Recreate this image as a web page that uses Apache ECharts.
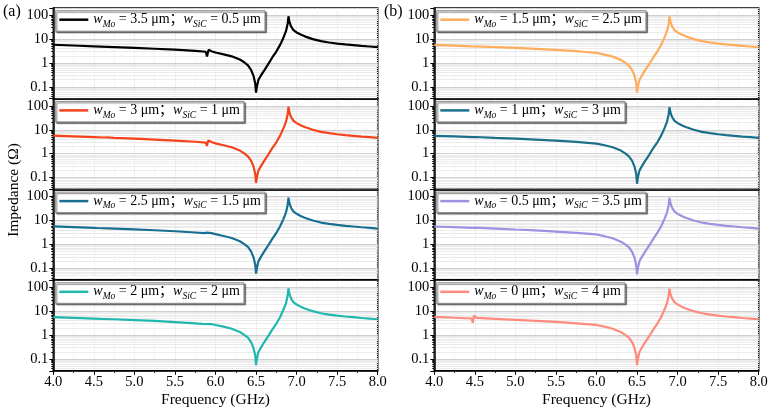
<!DOCTYPE html>
<html><head><meta charset="utf-8">
<script src="https://cdn.jsdelivr.net/npm/echarts@6/dist/echarts.min.js"></script>
<style>html,body{margin:0;padding:0;background:#fff}#c{width:771px;height:413px}</style>
</head><body><div id="c"></div>
<script>
// ---------- data ----------
const freqRange = [4.0, 8.0];
const xTickStep = 0.5;
const yTicks = [0.1, 1, 10, 100];
const wMo  = [3.5, 3, 2.5, 2, 1.5, 1, 0.5, 0];
const wSiC = [0.5, 1, 1.5, 2, 2.5, 3, 3.5, 4];
const panelLabels = ['(a)', '(b)'];

const zA1 = [[4.0,5.8],[4.25,5.4],[4.5,5.0],[4.75,4.65],[5.0,4.3],[5.25,3.95],[5.5,3.6],[5.75,3.2],[5.88,2.95],[5.895,1.85],[5.915,3.6],[5.95,3.1],[6.0,2.75],[6.1,2.3],[6.2,1.9],[6.3,1.4],[6.35,1.1],[6.4,0.8],[6.44,0.5],[6.47,0.28],[6.49,0.14],[6.5,0.058],[6.51,0.1],[6.53,0.2],[6.56,0.3],[6.6,0.48],[6.65,0.9],[6.7,1.7],[6.75,3.0],[6.8,6],[6.84,12],[6.87,22],[6.89,45],[6.9,90],[6.91,55],[6.93,35],[6.96,24],[7.0,19],[7.05,15.5],[7.1,13],[7.2,10],[7.3,8.2],[7.4,7.2],[7.5,6.5],[7.6,6.0],[7.7,5.6],[7.8,5.2],[7.9,4.9],[8.0,4.6]];
const zA2 = [[4.0,5.7],[4.25,5.3],[4.5,4.95],[4.63,4.75],[4.645,4.5],[4.66,4.85],[4.75,4.6],[5.0,4.25],[5.25,3.9],[5.5,3.55],[5.75,3.15],[5.88,2.9],[5.895,2.1],[5.91,3.6],[5.95,3.1],[6.0,2.7],[6.1,2.25],[6.2,1.85],[6.3,1.35],[6.35,1.05],[6.4,0.78],[6.44,0.5],[6.47,0.28],[6.49,0.14],[6.5,0.06],[6.51,0.1],[6.53,0.2],[6.56,0.3],[6.6,0.5],[6.65,0.9],[6.7,1.7],[6.75,3.0],[6.8,6],[6.84,12],[6.87,22],[6.89,45],[6.9,92],[6.91,56],[6.93,35],[6.96,24],[7.0,19],[7.05,15.5],[7.1,13],[7.2,10],[7.3,8.2],[7.4,7.2],[7.5,6.5],[7.6,6.0],[7.7,5.6],[7.8,5.2],[7.9,4.9],[8.0,4.6]];
const zA3 = [[4.0,5.7],[4.25,5.3],[4.5,4.95],[4.54,4.85],[4.55,4.65],[4.56,4.95],[4.75,4.6],[5.0,4.25],[5.25,3.9],[5.5,3.55],[5.75,3.15],[5.86,2.95],[5.875,2.45],[5.89,3.1],[5.95,2.95],[6.0,2.7],[6.1,2.25],[6.2,1.85],[6.3,1.35],[6.35,1.05],[6.4,0.78],[6.44,0.5],[6.47,0.28],[6.49,0.14],[6.5,0.06],[6.51,0.1],[6.53,0.2],[6.56,0.3],[6.6,0.5],[6.65,0.9],[6.7,1.7],[6.75,3.0],[6.8,6],[6.84,12],[6.87,22],[6.89,45],[6.9,90],[6.91,56],[6.93,35],[6.96,24],[7.0,19],[7.05,15.5],[7.1,13],[7.2,10],[7.3,8.2],[7.4,7.2],[7.5,6.5],[7.6,6.0],[7.7,5.6],[7.8,5.2],[7.9,4.9],[8.0,4.6]];
const zA4 = [[4.0,5.6],[4.25,5.25],[4.5,4.9],[4.71,4.6],[4.72,4.45],[4.73,4.7],[4.75,4.6],[5.0,4.25],[5.25,3.9],[5.5,3.5],[5.75,3.1],[5.84,2.95],[5.85,2.6],[5.86,3.05],[5.95,2.9],[6.0,2.65],[6.1,2.25],[6.2,1.85],[6.3,1.35],[6.35,1.05],[6.4,0.78],[6.44,0.5],[6.47,0.28],[6.49,0.14],[6.5,0.055],[6.51,0.1],[6.53,0.2],[6.56,0.3],[6.6,0.5],[6.65,0.9],[6.7,1.7],[6.75,3.0],[6.8,6],[6.84,12],[6.87,22],[6.89,45],[6.9,90],[6.91,56],[6.93,35],[6.96,24],[7.0,19],[7.05,15.5],[7.1,13],[7.2,10],[7.3,8.2],[7.4,7.2],[7.5,6.5],[7.6,6.0],[7.7,5.6],[7.8,5.2],[7.9,4.9],[8.0,4.6]];
const zB1 = [[4.0,5.7],[4.25,5.3],[4.46,4.95],[4.47,4.75],[4.48,5.05],[4.6,4.85],[4.69,4.7],[4.7,4.55],[4.71,4.8],[5.0,4.25],[5.25,3.9],[5.5,3.55],[5.75,3.15],[5.84,2.95],[5.85,2.75],[5.86,3.0],[6.0,2.65],[6.1,2.25],[6.2,1.85],[6.3,1.35],[6.35,1.05],[6.4,0.78],[6.44,0.5],[6.47,0.28],[6.49,0.14],[6.5,0.058],[6.51,0.1],[6.53,0.2],[6.56,0.3],[6.6,0.5],[6.65,0.9],[6.7,1.7],[6.75,3.0],[6.8,6],[6.84,12],[6.87,22],[6.89,45],[6.9,90],[6.91,56],[6.93,35],[6.96,24],[7.0,19],[7.05,15.5],[7.1,13],[7.2,10],[7.3,8.2],[7.4,7.2],[7.5,6.5],[7.6,6.0],[7.7,5.6],[7.8,5.2],[7.9,4.9],[8.0,4.6]];
const zB2 = [[4.0,5.6],[4.25,5.25],[4.47,4.9],[4.48,4.7],[4.49,5.4],[4.51,5.0],[4.75,4.6],[5.0,4.25],[5.25,3.9],[5.5,3.5],[5.75,3.1],[6.0,2.65],[6.1,2.25],[6.2,1.85],[6.3,1.35],[6.35,1.05],[6.4,0.78],[6.44,0.5],[6.47,0.28],[6.49,0.14],[6.5,0.055],[6.51,0.1],[6.53,0.2],[6.56,0.3],[6.6,0.5],[6.65,0.9],[6.7,1.7],[6.75,3.0],[6.8,6],[6.84,12],[6.87,22],[6.89,45],[6.9,88],[6.91,56],[6.93,35],[6.96,24],[7.0,19],[7.05,15.5],[7.1,13],[7.2,10],[7.3,8.2],[7.4,7.2],[7.5,6.5],[7.6,6.0],[7.7,5.6],[7.8,5.2],[7.9,4.9],[8.0,4.6]];
const zB3 = [[4.0,5.6],[4.25,5.25],[4.47,4.9],[4.48,4.65],[4.49,5.5],[4.51,5.0],[4.75,4.6],[5.0,4.2],[5.25,3.85],[5.5,3.45],[5.75,3.05],[6.0,2.6],[6.1,2.2],[6.2,1.8],[6.3,1.3],[6.35,1.02],[6.4,0.75],[6.44,0.48],[6.47,0.27],[6.49,0.13],[6.5,0.055],[6.51,0.1],[6.53,0.2],[6.56,0.3],[6.6,0.5],[6.65,0.9],[6.7,1.7],[6.75,3.0],[6.8,6],[6.84,12],[6.87,22],[6.89,45],[6.9,88],[6.91,56],[6.93,35],[6.96,24],[7.0,19],[7.05,15.5],[7.1,13],[7.2,10],[7.3,8.2],[7.4,7.2],[7.5,6.5],[7.6,6.0],[7.7,5.6],[7.8,5.2],[7.9,4.9],[8.0,4.6]];
const zB4 = [[4.0,5.8],[4.25,5.3],[4.46,4.95],[4.475,3.3],[4.49,6.6],[4.52,5.2],[4.75,4.75],[5.0,4.3],[5.25,3.95],[5.5,3.55],[5.75,3.1],[6.0,2.65],[6.1,2.25],[6.2,1.85],[6.3,1.35],[6.35,1.05],[6.4,0.78],[6.44,0.5],[6.47,0.28],[6.49,0.14],[6.5,0.055],[6.51,0.1],[6.53,0.2],[6.56,0.3],[6.6,0.5],[6.65,0.9],[6.7,1.7],[6.75,3.0],[6.8,6],[6.84,12],[6.87,22],[6.89,45],[6.9,88],[6.91,56],[6.93,35],[6.96,24],[7.0,19],[7.05,15.5],[7.1,13],[7.2,10],[7.3,8.2],[7.4,7.2],[7.5,6.5],[7.6,6.0],[7.7,5.6],[7.8,5.2],[7.9,4.9],[8.0,4.6]];
const seriesData = [zA1, zA2, zA3, zA4, zB1, zB2, zB3, zB4];

// ---------- styles ----------
const colors = ['#000000', '#F4431B', '#17708F', '#20B8AE', '#FFAD5C', '#1A6F8B', '#9C92E0', '#FF8A7D'];
const FONT = '"Liberation Serif", "Times New Roman", "Noto Sans CJK SC", serif';
const colLeft = [53.3, 434.3];
const colWidth = 324.4;
const rowTop = [8, 98.7, 189.4, 280.1];
const rowH = 90.7;

const grids = [], xAxes = [], yAxes = [], series = [], legends = [];
const names = wMo.map((m, i) => 'wMo = ' + m + ' μm; wSiC = ' + wSiC[i] + ' μm');

for (let k = 0; k < 8; k++) {
  const col = Math.floor(k / 4), row = k % 4;
  const bottom = row === 3;
  grids.push({left: colLeft[col], top: rowTop[row], width: colWidth, height: rowH,
    show: true, borderColor: '#000', borderWidth: 1.5, backgroundColor: 'transparent'});
  xAxes.push({type: 'value', gridIndex: k, min: freqRange[0], max: freqRange[1], interval: xTickStep,
    axisLine: {show: true, lineStyle: {color: '#000', width: 1.5}},
    axisTick: {show: bottom, inside: false, length: 4, lineStyle: {color: '#000', width: 1}},
    minorTick: {show: bottom, splitNumber: 2, length: 2, lineStyle: {color: '#000'}},
    axisLabel: {show: bottom, color: '#000', fontFamily: FONT, fontSize: 14.5, margin: 4,
      formatter: v => v.toFixed(1)},
    splitLine: {show: true, lineStyle: {color: '#e2e2e2', width: 1, type: 'dotted'}},
    minorSplitLine: {show: true, lineStyle: {color: '#ededed', width: 1, type: 'dotted'}},
    name: bottom ? 'Frequency (GHz)' : '', nameLocation: 'middle', nameGap: 21,
    nameTextStyle: {color: '#000', fontFamily: FONT, fontSize: 15.5}
  });
  yAxes.push({type: 'log', logBase: 10, gridIndex: k, min: 0.032, max: 200,
    axisLine: {show: true, lineStyle: {color: '#000', width: 1.5}},
    axisTick: {show: true, inside: false, length: 4, lineStyle: {color: '#000'}},
    minorTick: {show: true, splitNumber: 9, length: 2, lineStyle: {color: '#000'}},
    axisLabel: {color: '#000', fontFamily: FONT, fontSize: 14.5, margin: 5,
      showMinLabel: false, showMaxLabel: false,
      formatter: v => {
        const hit = yTicks.find(t => Math.abs(Math.log10(v) - Math.log10(t)) < 1e-6);
        return hit === undefined ? '' : String(hit);
      }},
    splitLine: {show: true, lineStyle: {color: '#cfcfcf', width: 1}},
    minorSplitLine: {show: true, lineStyle: {color: '#ebebeb', width: 1}}
  });
  series.push({name: names[k], type: 'line', xAxisIndex: k, yAxisIndex: k, data: seriesData[k],
    showSymbol: false, symbol: 'none', smooth: false, animation: false,
    lineStyle: {color: colors[k], width: 2.2}, itemStyle: {color: colors[k]}, z: 5});
  legends.push({data: [names[k]], left: colLeft[col] + 2, top: rowTop[row] + 2.7,
    backgroundColor: '#fff', borderColor: '#8a8a8a', borderWidth: 1, borderRadius: 0,
    padding: [2, 4, 2, 4], shadowColor: 'rgba(0,0,0,0.5)', shadowOffsetX: 1.5, shadowOffsetY: 1.5, shadowBlur: 1,
    icon: 'rect', itemWidth: 29, itemHeight: 2.5, selectedMode: false,
    formatter: () => '{i|w}{s|Mo}{t| = ' + wMo[k] + ' μm；}{i|w}{s|SiC}{t| = ' + wSiC[k] + ' μm}',
    textStyle: {color: '#000', fontFamily: FONT, fontSize: 14,
      rich: {
        t: {fontFamily: FONT, fontSize: 14, color: '#000', lineHeight: 19, verticalAlign: 'middle'},
        i: {fontFamily: FONT, fontSize: 14, fontStyle: 'italic', color: '#000', lineHeight: 19, verticalAlign: 'middle'},
        s: {fontFamily: FONT, fontSize: 9.5, fontStyle: 'italic', color: '#000', lineHeight: 10, verticalAlign: 'bottom'}
      }}
  });
}

const chart = echarts.init(document.getElementById('c'), null, {renderer: 'canvas'});
chart.setOption({
  animation: false,
  backgroundColor: '#fff',
  grid: grids, xAxis: xAxes, yAxis: yAxes, series: series, legend: legends,
  graphic: [
    {type: 'text', left: 3, top: 4, style: {text: panelLabels[0], fill: '#000', font: '16px ' + FONT}},
    {type: 'text', left: 384, top: 4, style: {text: panelLabels[1], fill: '#000', font: '16px ' + FONT}},
    {type: 'text', x: 14, y: 190, rotation: Math.PI / 2,
      style: {text: 'Impedance (Ω)', fill: '#000', font: '15.5px ' + FONT, align: 'center', verticalAlign: 'middle'}}
  ]
});
</script></body></html>
